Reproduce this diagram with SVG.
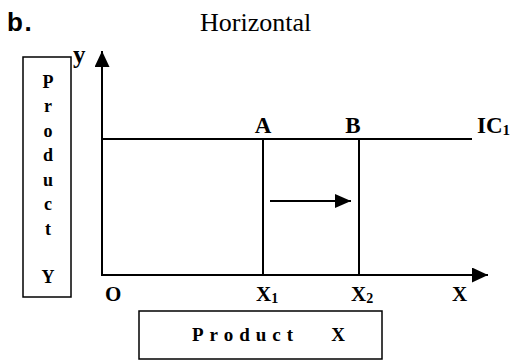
<svg xmlns="http://www.w3.org/2000/svg" width="521" height="362" viewBox="0 0 521 362">
<defs>
<marker id="ah" markerWidth="16" markerHeight="14" refX="16" refY="7" orient="auto" markerUnits="userSpaceOnUse" viewBox="0 0 16 14"><path d="M0,0 L16,7 L0,14 Z" fill="#000"/></marker>
<marker id="axh" markerWidth="16" markerHeight="15" refX="16" refY="7.5" orient="auto" markerUnits="userSpaceOnUse" viewBox="0 0 16 15"><path d="M0,0 L16,7.5 L0,15 Z" fill="#000"/></marker>
</defs>
<style>
.ln{stroke:#000;stroke-width:2;fill:none}
.bx{stroke:#000;stroke-width:1.5;fill:#fff}
.t{font-family:"Liberation Serif","Times New Roman",serif;font-weight:bold;fill:#000}
.title{font-family:"Liberation Serif","Times New Roman",serif;font-size:26px;fill:#000}
.sans{font-family:"Liberation Sans",Arial,sans-serif;font-weight:bold;font-size:26px;fill:#000}
</style>
<rect width="521" height="362" fill="#fff"/>
<text class="sans" x="7" y="31" letter-spacing="1.5">b.</text>
<text class="title" x="200" y="31">Horizontal</text>
<g id="axes">
<line class="ln" x1="102" y1="276" x2="102" y2="51" marker-end="url(#axh)"/>
<line class="ln" x1="101" y1="275" x2="488" y2="275" marker-end="url(#axh)"/>
<text class="t" x="73" y="63" font-size="25">y</text>
<text class="t" x="105" y="301" font-size="21">O</text>
<text class="t" x="452" y="301" font-size="21">X</text>
</g>
<g id="ic1">
<line class="ln" x1="102" y1="139" x2="472" y2="139"/>
<text class="t" x="477" y="133" font-size="23">IC<tspan font-size="15" dy="2">1</tspan></text>
</g>
<g id="nodeA">
<line class="ln" x1="263" y1="139" x2="263" y2="275"/>
<text class="t" x="263" y="133" font-size="23" text-anchor="middle">A</text>
<text class="t" x="256" y="301" font-size="21">X<tspan font-size="14" dy="2">1</tspan></text>
</g>
<g id="nodeB">
<line class="ln" x1="359" y1="139" x2="359" y2="275"/>
<text class="t" x="353" y="133" font-size="23" text-anchor="middle">B</text>
<text class="t" x="351" y="301" font-size="21">X<tspan font-size="14" dy="2">2</tspan></text>
</g>
<g id="connectors">
<line class="ln" x1="270" y1="201" x2="351" y2="201" marker-end="url(#ah)"/>
</g>
<g id="productY">
<rect class="bx" x="23" y="57" width="48" height="240"/>
<g class="t" font-size="18" text-anchor="middle">
<text x="48" y="88">P</text>
<text x="48" y="112">r</text>
<text x="48" y="137">o</text>
<text x="48" y="161">d</text>
<text x="48" y="186">u</text>
<text x="48" y="210">c</text>
<text x="48" y="235">t</text>
<text x="48" y="283">Y</text>
</g>
</g>
<g id="productX">
<rect class="bx" x="139" y="311" width="243" height="48"/>
<text class="t" x="192" y="341" font-size="19" letter-spacing="6" xml:space="preserve">Product   X</text>
</g>
</svg>
